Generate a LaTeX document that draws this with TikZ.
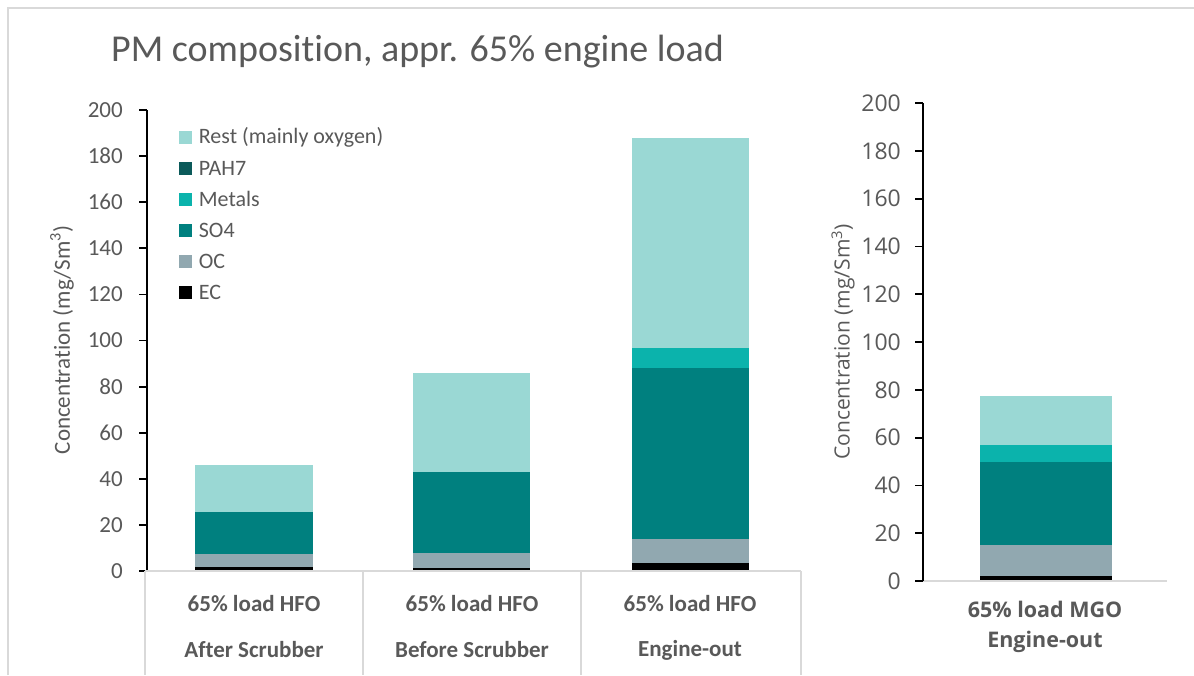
\documentclass[tikz,border=0pt]{standalone}
\usepackage{fontspec}
\setmainfont{Carlito}[Ligatures=NoCommon]
\newfontfamily\opensans{Open Sans}
\usetikzlibrary{positioning}

\definecolor{restc}{HTML}{9AD8D4}
\definecolor{pahc}{HTML}{0B5A5A}
\definecolor{metc}{HTML}{0BB3AC}
\definecolor{soc}{HTML}{00807F}
\definecolor{occ}{HTML}{91A8B0}
\definecolor{ecc}{HTML}{000000}
\definecolor{txtgray}{HTML}{595959}
\definecolor{linegray}{HTML}{D9D9D9}

\begin{document}
\begin{tikzpicture}[x=1pt, y=-1pt,
    axisline/.style={draw=black, line width=2pt},
    tickmark/.style={draw=black, line width=1.8pt},
    gridline/.style={draw=linegray, line width=1.6pt},
    ticklabel/.style={text=txtgray, font=\fontsize{23}{23}\selectfont, anchor=east, inner sep=0pt},
    rticklabel/.style={text=txtgray, font=\opensans\fontsize{23}{23}\selectfont, anchor=east, inner sep=0pt},
    ylab/.style={text=txtgray, rotate=90, inner sep=0pt},
    catlabel/.style={text=txtgray, font=\bfseries\fontsize{23}{23}\selectfont, inner sep=0pt},
    rcatlabel/.style={text=txtgray, font=\opensans\bfseries\fontsize{21.5}{21.5}\selectfont, inner sep=0pt},
    legbox/.style={minimum size=13pt, inner sep=0pt},
    legtext/.style={text=txtgray, font=\fontsize{22}{22}\selectfont, inner sep=0pt}]
    \useasboundingbox[fill=white] (0,0) rectangle (1194,675);

    % Frame
    \draw[gridline] (8,675) -- (8,8) -- (1194,8);

    % Title
    \node [text=txtgray, font=\fontsize{38}{38}\selectfont, anchor=west, inner sep=0pt] (title) at (111,52) {PM composition, appr. 65\% engine load};

    % Left chart: bars, axis and ticks
    \begin{scope}[shift={(0,571)}, y={(0,2.305pt)}]
        \foreach \lo/\hi/\col in {0/1.6/ecc, 1.6/7.4/occ, 7.4/25.6/soc, 25.6/46/restc}
            \fill [\col] (195,\lo) rectangle (313,\hi);
        \foreach \lo/\hi/\col in {0/1.5/ecc, 1.5/7.8/occ, 7.8/43/soc, 43/85.8/restc}
            \fill [\col] (413,\lo) rectangle (530,\hi);
        \foreach \lo/\hi/\col in {0/3.5/ecc, 3.5/13.8/occ, 13.8/88/soc, 88/96.8/metc, 96.8/187.8/restc}
            \fill [\col] (632,\lo) rectangle (749,\hi);
        \foreach \v in {0,20,...,200} {
            \draw [tickmark] (139,\v) -- (147,\v);
            \node [ticklabel] (lt\v) at (123,\v) {\v};
        }
        \coordinate (laxbot) at (147,0);
        \coordinate (laxtop) at (147,200);
    \end{scope}
    \draw [axisline] (laxbot) -- (laxtop);
    \node [ylab, font=\fontsize{23}{23}\selectfont] (lylab) at (62,340) {Concentration (mg/Sm\textsuperscript{3})};

    % Category table
    \coordinate (c0) at (145,571);
    \coordinate (c3) at (801,571);
    \draw [gridline] (c0) -- (c3);
    \foreach \xx in {145,363,581,801}
        \draw [gridline] (\xx,571) -- (\xx,675);
    \foreach \xx/\sub [count=\i] in {254/After Scrubber, 472/Before Scrubber, 690/Engine-out} {
        \node [catlabel] (cat\i) at (\xx,604) {65\% load HFO};
        \node [catlabel] (sub\i) at (\xx,650) {\sub};
    }

    % Legend
    \foreach \name/\col [count=\i from 0] in {Rest (mainly oxygen)/restc, PAH7/pahc, Metals/metc, SO4/soc, OC/occ, EC/ecc} {
        \node [legbox, fill=\col] (box\i) at (185,{137+31*\i}) {};
        \node [legtext, right=7pt of box\i] (leg\i) {\name};
    }

    % Right chart: bar, axis and ticks
    \begin{scope}[shift={(0,581)}, y={(0,2.39pt)}]
        \foreach \lo/\hi/\col in {0/2/ecc, 2/15/occ, 15/50/soc, 50/57/metc, 57/77.5/restc}
            \fill [\col] (980,\lo) rectangle (1112,\hi);
        \foreach \v in {0,20,...,200} {
            \draw [tickmark] (915,\v) -- (923,\v);
            \node [rticklabel] (rt\v) at (901,\v) {\v};
        }
        \coordinate (raxbot) at (923,0);
        \coordinate (raxtop) at (923,200);
        \coordinate (rbase) at (1167,0);
    \end{scope}
    \draw [gridline] (raxbot) -- (rbase);
    \draw [axisline] (raxbot) -- (raxtop);
    \node [ylab, font=\opensans\fontsize{21}{21}\selectfont] (rylab) at (843,342) {Concentration (mg/Sm\textsuperscript{3})};
    \node [rcatlabel] (rcat) at (1045,609) {65\% load MGO};
    \node [rcatlabel] (rsub) at (1045,642) {Engine-out};

\end{tikzpicture}
\end{document}
